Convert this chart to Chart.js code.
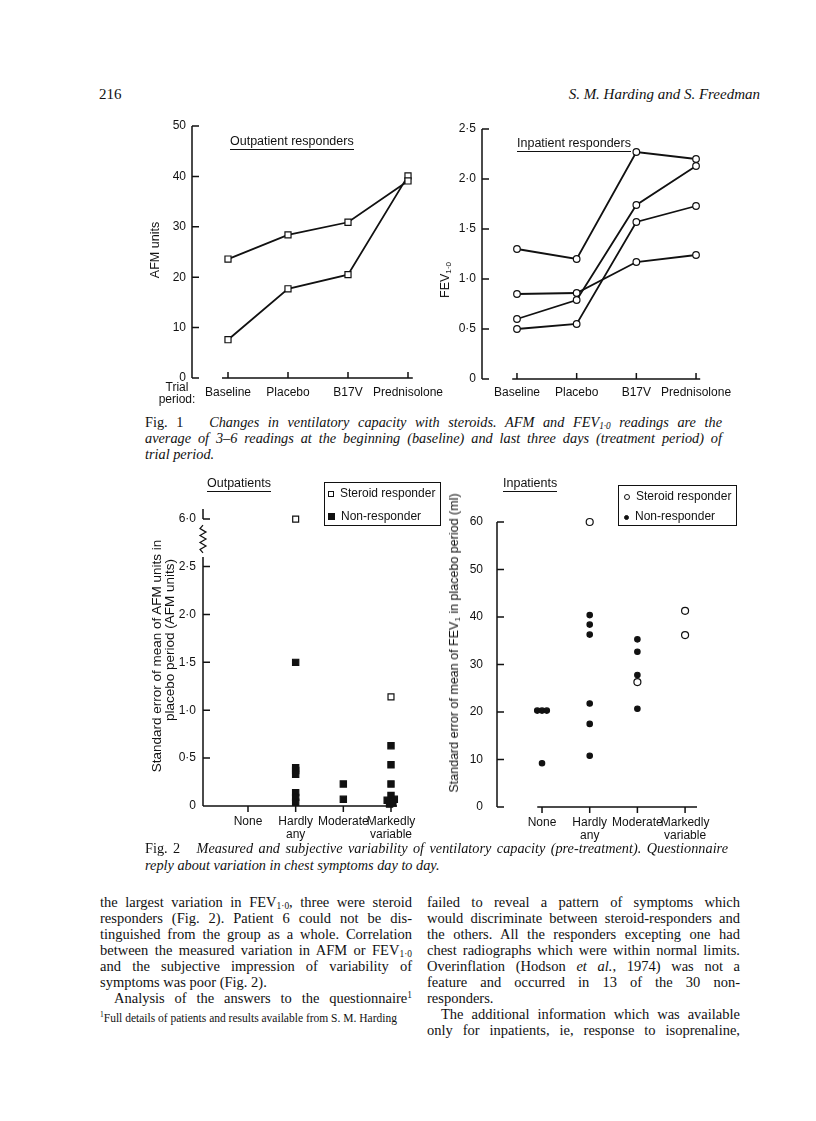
<!DOCTYPE html>
<html>
<head>
<meta charset="utf-8">
<script src="https://cdn.jsdelivr.net/npm/chart.js@4/dist/chart.umd.min.js"></script>
<style>
  body { margin: 0; background: #fff; }
  #page { position: relative; width: 816px; height: 1121px; overflow: hidden; background: #fff; color: #111;
          font-family: 'Liberation Serif', 'Times New Roman', serif; }
  canvas { position: absolute; }
  .t { position: absolute; white-space: nowrap; }
  .sans { font-family: 'Liberation Sans', Arial, sans-serif; }
  .ul { border-bottom: 1.4px solid #111; padding-bottom: 1px; line-height: 14px; }
  .rot { position: absolute; white-space: nowrap; transform: translate(-50%, -50%) rotate(-90deg);
         font-family: 'Liberation Sans', Arial, sans-serif; }
  .j { position: absolute; height: 16px; line-height: 16px; font-size: 14.5px; text-align: justify; text-align-last: justify; }
  .l { position: absolute; height: 16px; line-height: 16px; font-size: 14.5px; white-space: nowrap; }
  .cap { position: absolute; height: 16px; line-height: 16px; font-size: 14.3px; text-align: justify; text-align-last: justify; }
  sub { font-size: 65%; vertical-align: -2px; line-height: 0; }
  sup { font-size: 65%; vertical-align: 5px; line-height: 0; }
  .box { position: absolute; border: 1.3px solid #111; font-family: 'Liberation Sans', Arial, sans-serif; font-size: 12px; }
  .box div { position: absolute; white-space: nowrap; line-height: 14px; }
  .mk { display: inline-block; box-sizing: border-box; border: 1.2px solid #111; margin-right: 6px; vertical-align: 0; }
</style>
</head>
<body>
<div id="page">
  <div class="t" style="left:99px;top:86px;font-size:15px">216</div>
  <div class="t" style="right:56px;top:86px;font-size:15px;font-style:italic">S. M. Harding and S. Freedman</div>

  <canvas id="c1" width="340" height="300" style="left:120px;top:112px;width:340px;height:300px"></canvas>
  <canvas id="c2" width="360" height="300" style="left:420px;top:112px;width:360px;height:300px"></canvas>

  <div class="t sans ul" style="left:230px;top:134px;font-size:12.5px">Outpatient responders</div>
  <div class="t sans ul" style="left:517px;top:136px;font-size:12.5px">Inpatient responders</div>
  <div class="rot" style="left:155px;top:250px;font-size:12.5px">AFM units</div>
  <div class="rot" style="left:445px;top:280px;font-size:12.5px">FEV<sub>1·0</sub></div>
  <div class="t sans" style="left:150px;top:381px;width:54px;text-align:center;font-size:12px;line-height:12px">Trial<br>period:</div>

  <div class="cap" style="left:145px;top:414px;width:577px"><b style="font-weight:normal">Fig. 1</b>&nbsp;&nbsp; <i>Changes in ventilatory capacity with steroids. AFM and FEV<sub>1·0</sub> readings are the</i></div>
  <div class="cap" style="left:145px;top:430px;width:577px"><i>average of 3–6 readings at the beginning (baseline) and last three days (treatment period) of</i></div>
  <div class="cap" style="left:145px;top:446px;text-align-last:left"><i>trial period.</i></div>

  <canvas id="c3" width="310" height="380" style="left:130px;top:470px;width:310px;height:380px"></canvas>
  <canvas id="c4" width="340" height="380" style="left:440px;top:470px;width:340px;height:380px"></canvas>

  <div class="t sans ul" style="left:207px;top:476px;font-size:12.5px">Outpatients</div>
  <div class="t sans ul" style="left:503px;top:476px;font-size:12.5px">Inpatients</div>
  <div class="rot" style="left:156px;top:656px;font-size:13.5px">Standard error of mean of AFM units in</div>
  <div class="rot" style="left:169px;top:640px;font-size:13.5px">placebo period (AFM units)</div>
  <div class="rot" style="left:454px;top:643px;font-size:12.5px">Standard error of mean of FEV<sub>1</sub> in placebo period (ml)</div>

  <div class="box" style="left:324px;top:482px;width:115px;height:42px">
    <div style="left:3px;top:3px"><span class="mk" style="width:6px;height:6px;background:#fff"></span>Steroid responder</div>
    <div style="left:3px;top:26px"><span class="mk" style="width:7px;height:7px;background:#111"></span>Non-responder</div>
  </div>
  <div class="box" style="left:618px;top:485px;width:117px;height:39px">
    <div style="left:5px;top:3px"><span class="mk" style="width:6px;height:6px;border-radius:50%;background:#fff"></span>Steroid responder</div>
    <div style="left:5px;top:23px"><span class="mk" style="width:5px;height:5px;border-radius:50%;background:#111"></span>Non-responder</div>
  </div>

  <div class="cap" style="left:145px;top:840px;width:583px"><b style="font-weight:normal">Fig. 2</b>&nbsp;&nbsp; <i>Measured and subjective variability of ventilatory capacity (pre-treatment). Questionnaire</i></div>
  <div class="cap" style="left:145px;top:857px;text-align-last:left"><i>reply about variation in chest symptoms day to day.</i></div>

  <div class="j" style="left:100px;top:894px;width:312px">the largest variation in FEV<sub>1·0</sub>, three were steroid</div>
  <div class="j" style="left:100px;top:910px;width:312px">responders (Fig. 2). Patient 6 could not be dis-</div>
  <div class="j" style="left:100px;top:926px;width:312px">tinguished from the group as a whole. Correlation</div>
  <div class="j" style="left:100px;top:942px;width:312px">between the measured variation in AFM or FEV<sub>1·0</sub></div>
  <div class="j" style="left:100px;top:958px;width:312px">and the subjective impression of variability of</div>
  <div class="l" style="left:100px;top:974px">symptoms was poor (Fig. 2).</div>
  <div class="j" style="left:114px;top:990px;width:298px">Analysis of the answers to the questionnaire<sup>1</sup></div>
  <div class="l" style="left:100px;top:1010px;font-size:11.5px"><sup>1</sup>Full details of patients and results available from S. M. Harding</div>

  <div class="j" style="left:427px;top:894px;width:313px">failed to reveal a pattern of symptoms which</div>
  <div class="j" style="left:427px;top:910px;width:313px">would discriminate between steroid-responders and</div>
  <div class="j" style="left:427px;top:926px;width:313px">the others. All the responders excepting one had</div>
  <div class="j" style="left:427px;top:942px;width:313px">chest radiographs which were within normal limits.</div>
  <div class="j" style="left:427px;top:958px;width:313px">Overinflation (Hodson <i>et al.</i>, 1974) was not a</div>
  <div class="j" style="left:427px;top:974px;width:313px">feature and occurred in 13 of the 30 non-</div>
  <div class="l" style="left:427px;top:990px">responders.</div>
  <div class="j" style="left:441px;top:1006px;width:299px">The additional information which was available</div>
  <div class="j" style="left:427px;top:1022px;width:313px">only for inpatients, ie, response to isoprenaline,</div>
</div>

<script>
const ink = '#111';

// Fig. 1 - treatment periods
const periods = ['Baseline', 'Placebo', 'B17V', 'Prednisolone'];
const outResponderA = [23.6, 28.4, 30.9, 39.1];   // AFM units
const outResponderB = [7.6, 17.7, 20.5, 40.1];
const inResponder1 = [1.30, 1.20, 2.27, 2.20];    // FEV1.0 (l)
const inResponder2 = [0.85, 0.86, 1.17, 1.24];
const inResponder3 = [0.60, 0.79, 1.74, 2.13];
const inResponder4 = [0.50, 0.55, 1.57, 1.73];
const afmTicks = [0, 10, 20, 30, 40, 50];
const fevTicks = [0, 0.5, 1, 1.5, 2, 2.5];

// Fig. 2 - questionnaire answer (x = answer index, small offsets where marks sit side by side)
const variability = [['None'], ['Hardly', 'any'], ['Moderate'], ['Markedly', 'variable']];
const outSteroidX = [1, 3];
const outSteroidY = [6.0, 1.14];
const outNonX = [1, 1, 1, 1, 1, 1, 1, 2, 2, 3, 3, 3, 3, 2.92, 3.07, 2.97, 3.04];
const outNonY = [1.50, 0.40, 0.37, 0.33, 0.14, 0.09, 0.04, 0.23, 0.07, 0.63, 0.43, 0.23, 0.11, 0.06, 0.07, 0.02, 0.03];
const outLowTicks = [0, 0.5, 1, 1.5, 2, 2.5];
const outHighTicks = [6];
const outBreak = 2.6;   // top of the lower part of the broken axis
const inSteroidX = [1, 2, 3, 3];
const inSteroidY = [60, 26.3, 41.3, 36.2];
const inNonX = [-0.1, 0, 0.1, 0, 1, 1, 1, 1, 1, 1, 2, 2, 2, 2];
const inNonY = [20.3, 20.3, 20.3, 9.2, 40.4, 38.4, 36.3, 21.8, 17.5, 10.8, 35.3, 32.7, 27.8, 20.7];
const inTicks = [0, 10, 20, 30, 40, 50, 60];

const tickFont = { family: "'Liberation Sans', Arial, sans-serif", size: 12 };
const dec1 = v => v === 0 ? '0' : v.toFixed(1).replace('.', '\u00b7');
const whole = v => String(v);
const pts = (xs, ys) => xs.map((x, i) => ({ x: x, y: ys[i] }));
const series = arr => arr.map((v, i) => ({ x: i, y: v }));

// axes drawn the way the printed figure has them: ticks inward, x line apart from y line
const paperAxes = {
  id: 'paperAxes',
  beforeDatasetsDraw(chart, args, o) {
    const ctx = chart.ctx;
    const left = chart.chartArea.left;
    const xs = chart.scales.x;
    ctx.save();
    ctx.strokeStyle = ink;
    ctx.lineWidth = 1.5;
    ctx.beginPath();
    o.segments.forEach(seg => {
      const s = chart.scales[seg.id];
      ctx.moveTo(left, s.getPixelForValue(seg.from));
      ctx.lineTo(left, s.getPixelForValue(seg.to));
      s.ticks.forEach(t => {
        const py = s.getPixelForValue(t.value);
        ctx.moveTo(left, py);
        ctx.lineTo(left + 7, py);
      });
    });
    const base = chart.scales[o.baseId].getPixelForValue(0);
    ctx.moveTo(xs.getPixelForValue(o.xFrom), base);
    ctx.lineTo(xs.getPixelForValue(o.xTo), base);
    xs.ticks.forEach(t => {
      const px = xs.getPixelForValue(t.value);
      ctx.moveTo(px, base);
      ctx.lineTo(px, base + o.xTickDir * 6);
    });
    ctx.stroke();
    if (o.zigzag) {
      const s = chart.scales[o.zigzag.id];
      const y1 = s.getPixelForValue(o.zigzag.from), y2 = s.getPixelForValue(o.zigzag.to);
      ctx.lineWidth = 1.2;
      ctx.beginPath();
      ctx.moveTo(left, y1);
      const n = 8;
      for (let i = 1; i < n; i++) ctx.lineTo(left + (i % 2 ? -3 : 3), y1 + (y2 - y1) * i / n);
      ctx.lineTo(left, y2);
      ctx.stroke();
    }
    ctx.restore();
  }
};

function yScale(min, max, ticks, fmt, width, pad, extra) {
  return Object.assign({
    type: 'linear', position: 'left', min: min, max: max,
    grid: { display: false, drawTicks: false }, border: { display: false },
    afterBuildTicks: s => { s.ticks = ticks.map(v => ({ value: v })); },
    afterFit: s => { s.width = width; },
    ticks: { color: ink, font: tickFont, padding: pad, callback: fmt }
  }, extra || {});
}

function xScale(min, max, labels, height, pad) {
  return {
    type: 'linear', min: min, max: max,
    grid: { display: false, drawTicks: false }, border: { display: false },
    afterBuildTicks: s => { s.ticks = labels.map((l, i) => ({ value: i })); },
    afterFit: s => { s.height = height; },
    ticks: { color: ink, font: Object.assign({ lineHeight: 1.1 }, tickFont), padding: pad,
             maxRotation: 0, autoSkip: false, callback: v => labels[v] }
  };
}

function lineSet(values, style, radius) {
  return { data: series(values), borderColor: ink, borderWidth: 1.8, tension: 0, clip: false,
           pointStyle: style, pointRadius: radius, pointBackgroundColor: '#fff',
           pointBorderColor: ink, pointBorderWidth: 1.2 };
}

function dotSet(data, style, radius, fill, axis) {
  return { data: data, yAxisID: axis, clip: false, pointStyle: style, pointRadius: radius,
           backgroundColor: fill, borderColor: ink, borderWidth: 1.2 };
}

const common = {
  responsive: false, animation: false, events: [],
  plugins: { legend: { display: false }, tooltip: { enabled: false } }
};

// Fig. 1 left: outpatient responders
new Chart(document.getElementById('c1'), {
  type: 'line',
  data: { datasets: [lineSet(outResponderA, 'rect', 4.3), lineSet(outResponderB, 'rect', 4.3)] },
  options: Object.assign({}, common, {
    layout: { padding: { top: 14, right: 46, bottom: 0, left: 0 } },
    scales: {
      x: xScale(-0.6, 3.1, periods, 34, 8),
      y: yScale(0, 50, afmTicks, whole, 72, 6)
    },
    plugins: Object.assign({}, common.plugins, {
      paperAxes: { segments: [{ id: 'y', from: 0, to: 50 }], baseId: 'y', xFrom: -0.1, xTo: 3.08, xTickDir: -1 }
    })
  }),
  plugins: [paperAxes]
});

// Fig. 1 right: inpatient responders
new Chart(document.getElementById('c2'), {
  type: 'line',
  data: { datasets: [inResponder1, inResponder2, inResponder3, inResponder4].map(v => lineSet(v, 'circle', 3.3)) },
  options: Object.assign({}, common, {
    layout: { padding: { top: 17, right: 78, bottom: 0, left: 0 } },
    scales: {
      x: xScale(-0.586, 3.1, periods, 33, 7),
      y: yScale(0, 2.5, fevTicks, dec1, 62, 6)
    },
    plugins: Object.assign({}, common.plugins, {
      paperAxes: { segments: [{ id: 'y', from: 0, to: 2.5 }], baseId: 'y', xFrom: -0.08, xTo: 3.07, xTickDir: -1 }
    })
  }),
  plugins: [paperAxes]
});

// Fig. 2 left: outpatients, broken AFM axis as two stacked scales
const outSteroid = pts(outSteroidX, outSteroidY);
new Chart(document.getElementById('c3'), {
  type: 'scatter',
  data: { datasets: [
    dotSet(outSteroid.filter(p => p.y > outBreak), 'rect', 4.2, '#fff', 'yTop'),
    dotSet(outSteroid.filter(p => p.y <= outBreak), 'rect', 4.2, '#fff', 'y'),
    dotSet(pts(outNonX, outNonY), 'rect', 4.4, ink, 'y')
  ] },
  options: Object.assign({}, common, {
    layout: { padding: { top: 39, right: 43, bottom: 0, left: 0 } },
    scales: {
      x: xScale(-0.944, 3.126, variability, 44, 9),
      y: yScale(0, outBreak, outLowTicks, dec1, 73, 7, { stack: 'afm', stackWeight: 249 }),
      yTop: yScale(5.25, 6.2, outHighTicks, dec1, 73, 7, { stack: 'afm', stackWeight: 48 })
    },
    plugins: Object.assign({}, common.plugins, {
      paperAxes: { segments: [{ id: 'y', from: 0, to: outBreak }, { id: 'yTop', from: 6.0, to: 6.2 }],
                   baseId: 'y', xFrom: -0.944, xTo: 3.126, xTickDir: 1,
                   zigzag: { id: 'yTop', from: 5.88, to: 5.33 } }
    })
  }),
  plugins: [paperAxes]
});

// Fig. 2 right: inpatients
new Chart(document.getElementById('c4'), {
  type: 'scatter',
  data: { datasets: [
    dotSet(pts(inSteroidX, inSteroidY), 'circle', 3.5, '#fff', 'y'),
    dotSet(pts(inNonX, inNonY), 'circle', 2.7, ink, 'y')
  ] },
  options: Object.assign({}, common, {
    layout: { padding: { top: 52, right: 83, bottom: 0, left: 0 } },
    scales: {
      x: xScale(-0.944, 3.25, variability, 43, 9),
      y: yScale(0, 60, inTicks, whole, 57, 14)
    },
    plugins: Object.assign({}, common.plugins, {
      paperAxes: { segments: [{ id: 'y', from: 0, to: 60 }], baseId: 'y', xFrom: -0.1, xTo: 3.25, xTickDir: 1 }
    })
  }),
  plugins: [paperAxes]
});
</script>
</body>
</html>
